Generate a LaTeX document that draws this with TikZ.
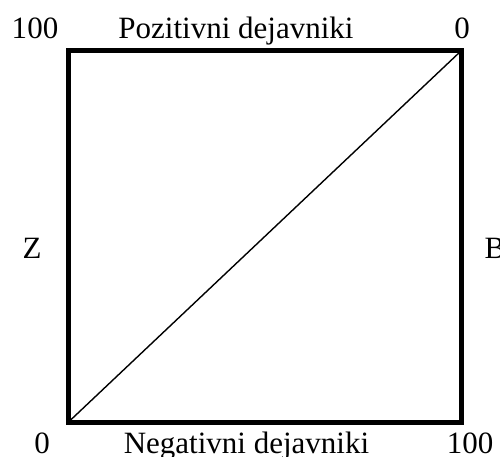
\documentclass[tikz,border=0pt]{standalone}
\usepackage{fontspec}
\setmainfont{Liberation Serif}

\begin{document}
\begin{tikzpicture}[x=1pt, y=-1pt,
    lbl/.style={font=\fontsize{31}{37}\selectfont, anchor=base, inner sep=0pt}]
    \useasboundingbox (0,0) rectangle (500,457);
    \coordinate (BL) at (68.5,422);
    \coordinate (TR) at (461.5,50.5);
    \draw[line width=5pt] (BL) rectangle (TR);
    \draw[line width=1.4pt] (BL) -- (TR);
    % top labels
    \node[lbl] (tl) at (35,39) {100};
    \node[lbl] (pos) at (236,39) {Pozitivni dejavniki};
    \node[lbl] (tr) at (462,39) {0};
    % side labels
    \node[lbl] (z) at (32,258) {Z};
    \node[lbl] (b) at (495,258) {B};
    % bottom labels
    \node[lbl] (bl) at (42,453) {0};
    \node[lbl] (neg) at (246.5,453) {Negativni dejavniki};
    \node[lbl] (br) at (470,453) {100};
\end{tikzpicture}
\end{document}
